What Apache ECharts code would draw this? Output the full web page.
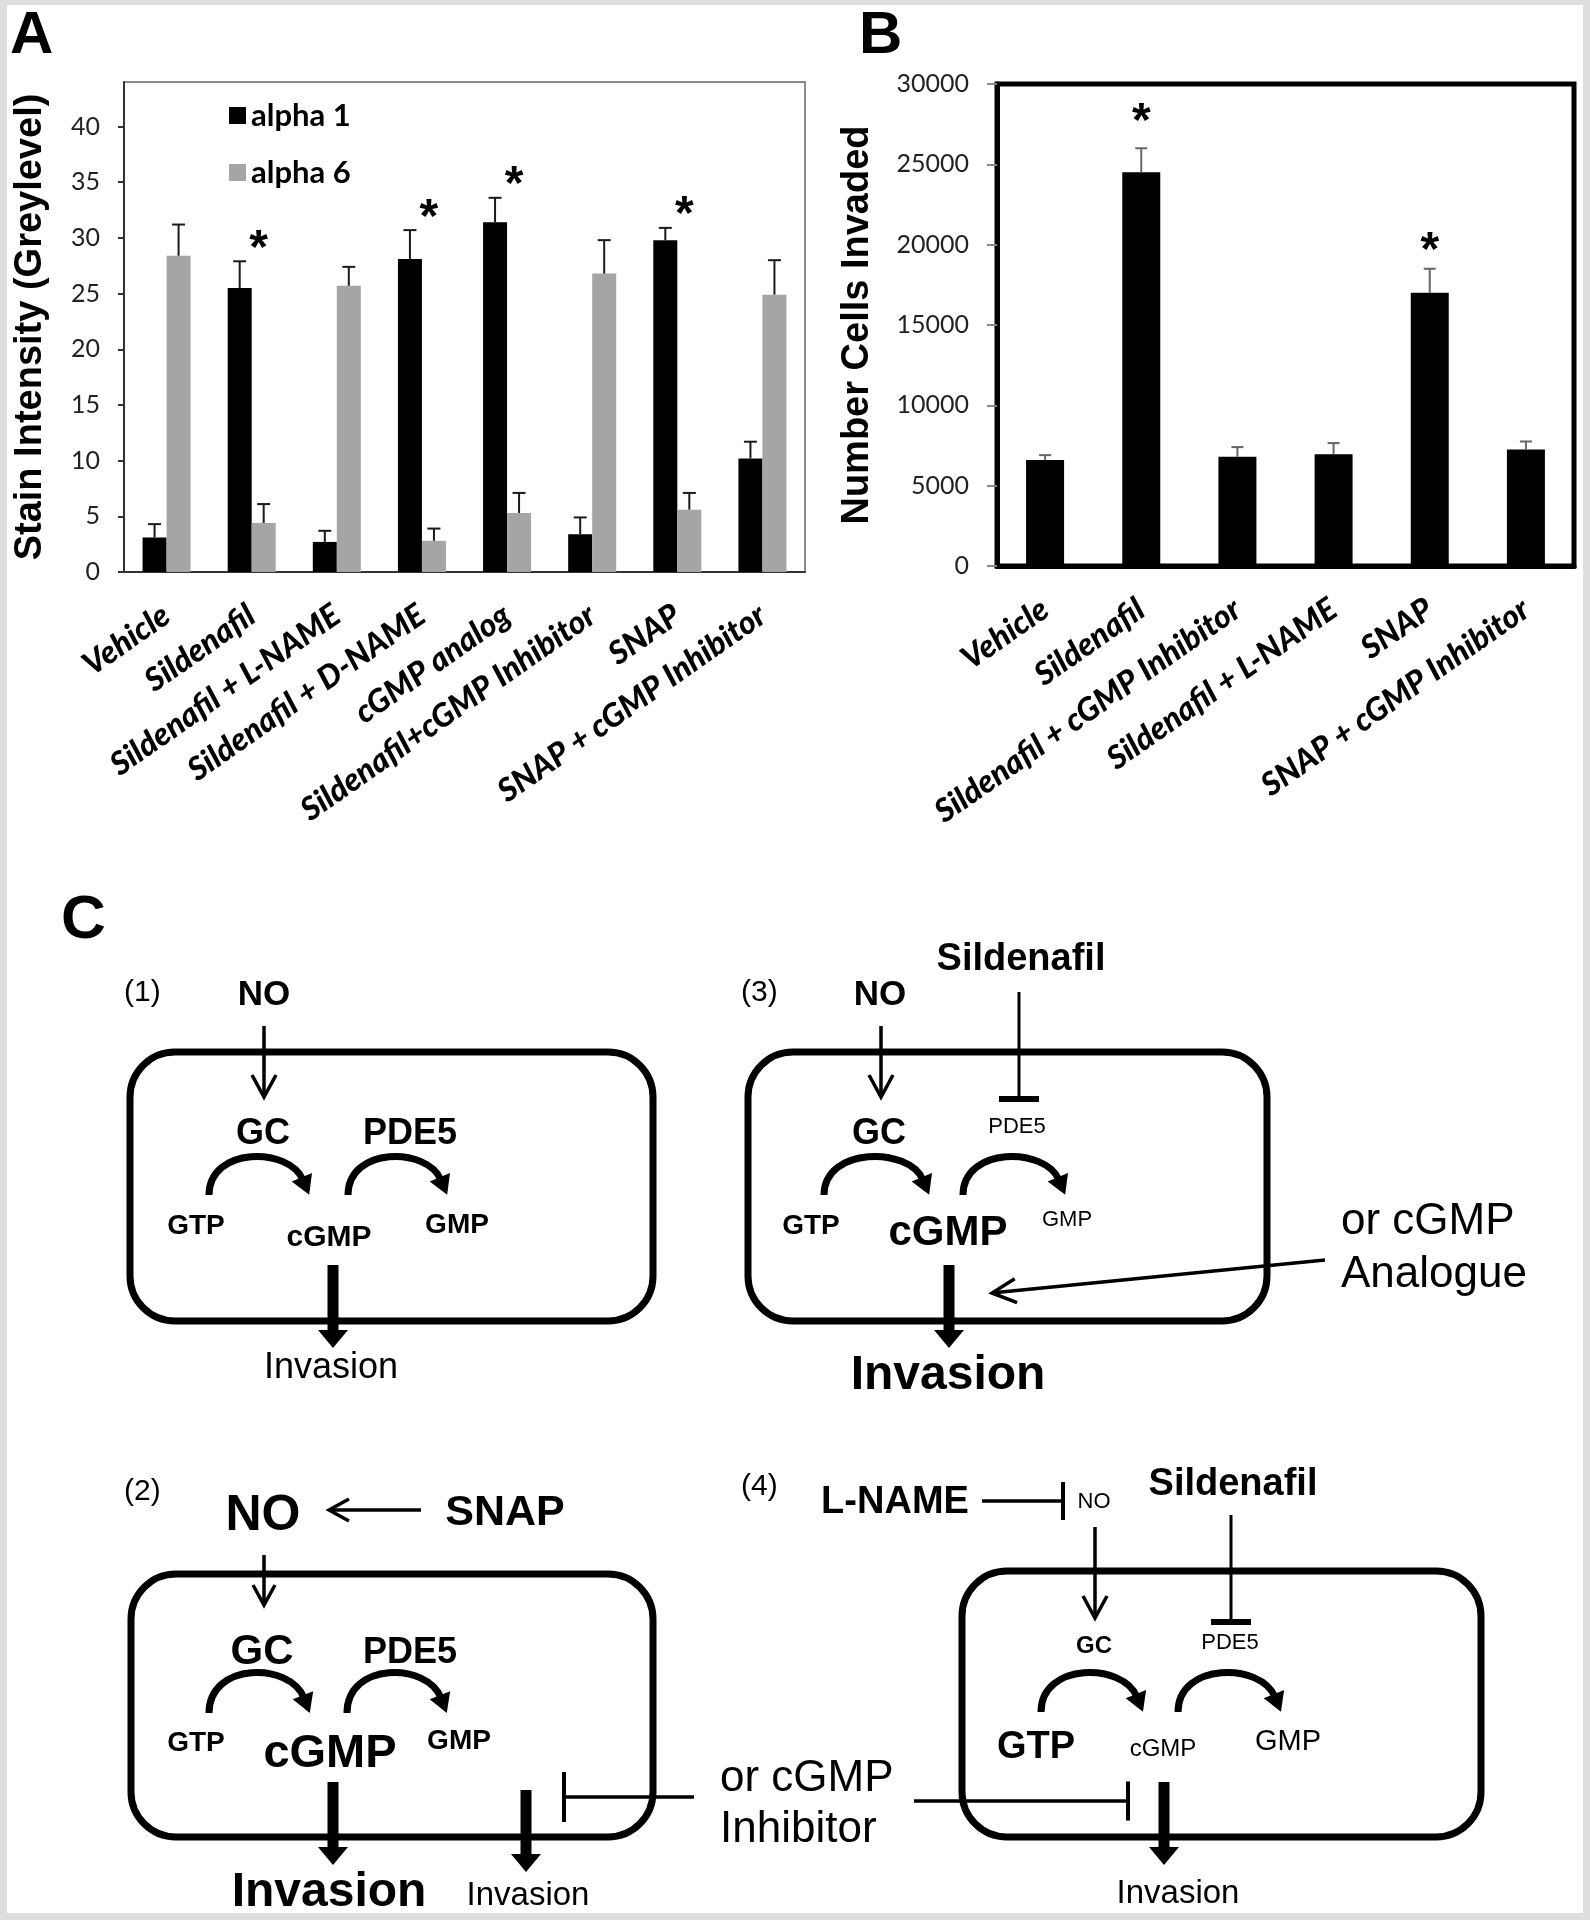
<!DOCTYPE html>
<html>
<head>
<meta charset="utf-8">
<script src="https://cdn.jsdelivr.net/npm/echarts@6/dist/echarts.min.js"></script>
<style>
  html, body { margin: 0; padding: 0; background: #dedede; }
  #paper { position: absolute; left: 7px; top: 5px; width: 1576px; height: 1908px; background: #fff; }
  #chart { position: absolute; left: 0; top: 0; width: 1590px; height: 1920px; }
</style>
</head>
<body>
<div id="paper"></div>
<div id="chart"></div>
<script>
// ---- panel A: integrin staining ----
const treatmentsA = ['Vehicle', 'Sildenafil', 'Sildenafil + L-NAME', 'Sildenafil + D-NAME',
  'cGMP analog', 'Sildenafil+cGMP Inhibitor', 'SNAP', 'SNAP + cGMP Inhibitor'];
const alpha1 = [3.1, 25.5, 2.7, 28.1, 31.4, 3.4, 29.8, 10.2];
const alpha1Err = [1.2, 2.4, 1.0, 2.6, 2.2, 1.5, 1.1, 1.5];
const alpha6 = [28.4, 4.4, 25.7, 2.8, 5.3, 26.8, 5.6, 24.9];
const alpha6Err = [2.8, 1.7, 1.7, 1.1, 1.8, 3.0, 1.5, 3.1];
const starsA = [null, 29.8, null, 32.6, 35.6, null, 32.9, null];
const yTicksA = [0, 5, 10, 15, 20, 25, 30, 35, 40];

// ---- panel B: invasion ----
const treatmentsB = ['Vehicle', 'Sildenafil', 'Sildenafil + cGMP Inhibitor',
  'Sildenafil + L-NAME', 'SNAP', 'SNAP + cGMP Inhibitor'];
const invaded = [6600, 24500, 6800, 6950, 17000, 7250];
const invadedErr = [300, 1500, 600, 700, 1500, 500];
const starsB = [null, 28200, null, null, 20200, null];

const tickFont = 'Lato';
const drawFont = 'Liberation Sans';

function withErr(vals, errs) {
  return vals.map((v, i) => [i, v, v + errs[i]]);
}
function starPts(arr) {
  return arr.map((v, i) => (v == null ? null : [i, v])).filter(Boolean);
}

function errBars(offset, color, cap) {
  return function (params, api) {
    const i = api.value(0);
    const lo = api.coord([i, api.value(1)]);
    const hi = api.coord([i, api.value(2)]);
    const x = lo[0] + offset;
    const st = { stroke: color, lineWidth: 2 };
    return {
      type: 'group',
      children: [
        { type: 'line', shape: { x1: x, y1: lo[1], x2: x, y2: hi[1] }, style: st },
        { type: 'line', shape: { x1: x - cap, y1: hi[1], x2: x + cap, y2: hi[1] }, style: st }
      ]
    };
  };
}

function starMark(offset) {
  return function (params, api) {
    const p = api.coord([api.value(0), api.value(1)]);
    return {
      type: 'text',
      x: p[0] + offset,
      y: p[1] + 10,
      style: {
        text: '*', fontFamily: drawFont, fontWeight: 'bold', fontSize: 48,
        fill: '#000', textAlign: 'center', textVerticalAlign: 'middle'
      }
    };
  };
}

// ---- panel C: pathway sketches ----
const K = '#000';
const g = [];

function txt(s, x, y, size, bold, align) {
  g.push({
    type: 'text', x: x, y: y,
    style: {
      text: s, fontFamily: drawFont, fontSize: size, fontWeight: bold ? 'bold' : 'normal',
      fill: K, textAlign: align || 'center', textVerticalAlign: 'middle'
    }
  });
}
function line(x1, y1, x2, y2, w) {
  g.push({ type: 'line', shape: { x1, y1, x2, y2 }, style: { stroke: K, lineWidth: w } });
}
function arrow(x1, y1, x2, y2, w, len, half) {
  const L = Math.hypot(x2 - x1, y2 - y1), ux = (x2 - x1) / L, uy = (y2 - y1) / L;
  line(x1, y1, x2 - ux * 2, y2 - uy * 2, w);
  g.push({
    type: 'polyline',
    shape: { points: [[x2 - ux * len - uy * half, y2 - uy * len + ux * half], [x2, y2],
      [x2 - ux * len + uy * half, y2 - uy * len - ux * half]] },
    style: { stroke: K, lineWidth: w, fill: 'none', lineJoin: 'miter' }
  });
}
function fatArrow(x, y1, y2) {
  line(x, y1, x, y2 - 15, 11);
  g.push({ type: 'polygon', shape: { points: [[x - 15, y2 - 18], [x + 15, y2 - 18], [x, y2]] }, style: { fill: K } });
}
function blocker(x1, y1, x2, y2, w, bar, bw) {
  const L = Math.hypot(x2 - x1, y2 - y1), ux = (x2 - x1) / L, uy = (y2 - y1) / L;
  line(x1, y1, x2, y2, w);
  line(x2 - uy * bar / 2, y2 + ux * bar / 2, x2 + uy * bar / 2, y2 - ux * bar / 2, bw);
}
function box(x, y, w, h) {
  g.push({ type: 'rect', shape: { x, y, width: w, height: h, r: 45 }, style: { stroke: K, lineWidth: 7, fill: 'none' } });
}
function curl(x0, tipX, baseY, apexY) {
  const h = (baseY - apexY - 1.6) / 0.75;
  const ex = tipX - 8, ey = baseY - 15;
  const c2x = tipX - 22, c2y = baseY - h;
  g.push({
    type: 'bezierCurve',
    shape: { x1: x0, y1: baseY, x2: ex, y2: ey, cpx1: x0, cpy1: baseY - h, cpx2: c2x, cpy2: c2y },
    style: { stroke: K, lineWidth: 7, fill: 'none' }
  });
  let dx = ex - c2x, dy = ey - c2y;
  const L = Math.hypot(dx, dy); dx /= L; dy /= L;
  const tx = ex + dx * 16, ty = ey + dy * 16, bx = ex - dx * 3, by = ey - dy * 3;
  g.push({
    type: 'polygon',
    shape: { points: [[tx, ty], [bx - dy * 11, by + dx * 11], [bx + dy * 11, by - dx * 11]] },
    style: { fill: K }
  });
}

// panel letters
txt('A', 10, 36, 60, true, 'left');
txt('B', 859, 36, 60, true, 'left');
txt('C', 61, 921, 62, true, 'left');

// (1)
txt('(1)', 124, 993, 30, false, 'left');
txt('NO', 264, 995, 35, true);
arrow(264, 1026, 264, 1097, 3.5, 22, 12);
box(130, 1052, 523, 269);
txt('GC', 263, 1134, 36, true);
txt('PDE5', 410, 1134, 36, true);
curl(209, 311, 1195, 1157);
curl(348, 449, 1195, 1157);
txt('GTP', 196, 1226, 28, true);
txt('cGMP', 329, 1238, 30, true);
txt('GMP', 457, 1225, 28, true);
fatArrow(333, 1265, 1348);
txt('Invasion', 331, 1368, 36, false);

// (3)
txt('(3)', 741, 993, 30, false, 'left');
txt('NO', 880, 995, 35, true);
txt('Sildenafil', 1021, 960, 38, true);
arrow(881, 1026, 881, 1097, 3.5, 22, 12);
blocker(1019, 992, 1019, 1099, 3, 40, 6);
box(748, 1052, 519, 269);
txt('PDE5', 1017, 1127, 22, false);
txt('GC', 879, 1134, 36, true);
curl(824, 931, 1195, 1157);
curl(963, 1067, 1195, 1157);
txt('GTP', 811, 1226, 28, true);
txt('cGMP', 948, 1233, 42, true);
txt('GMP', 1067, 1220, 22, false);
fatArrow(949, 1265, 1348);
txt('Invasion', 948, 1376, 48, true);
txt('or cGMP', 1341, 1222, 44, false, 'left');
txt('Analogue', 1341, 1275, 44, false, 'left');
arrow(1325, 1260, 992, 1293, 3.5, 24, 12);

// (2)
txt('(2)', 124, 1492, 30, false, 'left');
txt('NO', 263, 1516, 50, true);
arrow(421, 1510, 329, 1510, 3.5, 20, 11);
txt('SNAP', 505, 1513, 43, true);
arrow(264, 1555, 264, 1605, 3.5, 20, 11);
box(131, 1574, 522, 263);
txt('GC', 262, 1652, 42, true);
txt('PDE5', 410, 1653, 36, true);
curl(209, 312, 1713, 1673);
curl(347, 449, 1713, 1673);
txt('GTP', 196, 1743, 28, true);
txt('cGMP', 330, 1754, 47, true);
txt('GMP', 459, 1741, 28, true);
fatArrow(333, 1782, 1865);
fatArrow(526, 1790, 1872);
blocker(694, 1797, 564, 1797, 3.5, 50, 4);
txt('Invasion', 329, 1893, 48, true);
txt('Invasion', 528, 1896, 33, false);
txt('or cGMP', 720, 1779, 44, false, 'left');
txt('Inhibitor', 720, 1830, 44, false, 'left');

// (4)
txt('(4)', 741, 1487, 30, false, 'left');
txt('L-NAME', 895, 1503, 38, true);
blocker(982, 1501, 1063, 1501, 3.5, 38, 4);
txt('NO', 1094, 1502, 22, false);
txt('Sildenafil', 1233, 1485, 38, true);
arrow(1095, 1527, 1095, 1618, 3.5, 22, 12);
blocker(1231, 1515, 1231, 1622, 3, 40, 6);
box(962, 1571, 519, 266);
txt('GC', 1094, 1646, 24, true);
txt('PDE5', 1230, 1643, 22, false);
curl(1041, 1145, 1712, 1673);
curl(1178, 1283, 1712, 1673);
txt('GTP', 1036, 1748, 38, true);
txt('cGMP', 1163, 1749, 24, false);
txt('GMP', 1288, 1742, 29, false);
fatArrow(1164, 1782, 1865);
blocker(914, 1801, 1128, 1801, 3.5, 39, 4);
txt('Invasion', 1178, 1894, 33, false);

const chart = echarts.init(document.getElementById('chart'), null, { renderer: 'canvas' });

const xLabel = {
  interval: 0, rotate: 35, margin: 40, color: '#000',
  fontFamily: tickFont, fontWeight: 900, fontStyle: 'italic', fontSize: 32
};
const yLabel = { color: '#222', fontFamily: tickFont, fontSize: 25, formatter: v => String(v) };
const yName = { color: '#000', fontFamily: drawFont, fontWeight: 'bold', fontSize: 38 };

chart.setOption({
  animation: false,
  backgroundColor: 'transparent',
  legend: {
    data: ['alpha 1', 'alpha 6'],
    orient: 'vertical', left: 224, top: 95,
    itemWidth: 17, itemHeight: 17, itemGap: 26, icon: 'rect',
    textStyle: { fontFamily: tickFont, fontWeight: 'bold', fontSize: 31, color: '#000' }
  },
  grid: [
    { left: 124, top: 82, width: 681, height: 490, show: true, borderColor: '#666', borderWidth: 1.5 },
    { left: 997, top: 84, width: 577, height: 482, show: true, borderColor: '#000', borderWidth: 5 }
  ],
  xAxis: [
    {
      type: 'category', gridIndex: 0, data: treatmentsA,
      axisLine: { lineStyle: { color: '#333', width: 2 } },
      axisTick: { length: 11, lineStyle: { color: '#333', width: 2 } },
      axisLabel: xLabel
    },
    {
      type: 'category', gridIndex: 1, data: treatmentsB,
      axisLine: { lineStyle: { color: '#000', width: 5 } },
      axisTick: { length: 11, lineStyle: { color: '#222', width: 2 } },
      axisLabel: xLabel
    }
  ],
  yAxis: [
    {
      type: 'value', gridIndex: 0, min: 0, max: 44, interval: 5,
      name: 'Stain Intensity (Greylevel)', nameLocation: 'middle', nameGap: 74, nameTextStyle: yName,
      axisLine: { show: true, lineStyle: { color: '#333', width: 2 } },
      axisTick: { show: true, length: 6, customValues: yTicksA, lineStyle: { color: '#333', width: 2 } },
      axisLabel: Object.assign({ margin: 24, customValues: yTicksA }, yLabel),
      splitLine: { show: false }
    },
    {
      type: 'value', gridIndex: 1, min: 0, max: 30000, interval: 5000,
      name: 'Number Cells Invaded', nameLocation: 'middle', nameGap: 120, nameTextStyle: yName,
      axisLine: { show: true, lineStyle: { color: '#000', width: 5 } },
      axisTick: { show: true, length: 10, lineStyle: { color: '#888', width: 2 } },
      axisLabel: Object.assign({ margin: 28 }, yLabel),
      splitLine: { show: false }
    }
  ],
  series: [
    {
      name: 'alpha 1', type: 'bar', xAxisIndex: 0, yAxisIndex: 0, data: alpha1,
      barWidth: 24, barGap: '0%', itemStyle: { color: '#000' }
    },
    {
      name: 'alpha 6', type: 'bar', xAxisIndex: 0, yAxisIndex: 0, data: alpha6,
      barWidth: 24, barGap: '0%', itemStyle: { color: '#a5a5a5' }
    },
    {
      type: 'custom', xAxisIndex: 0, yAxisIndex: 0, z: 5,
      renderItem: errBars(-12, '#1a1a1a', 6.5), data: withErr(alpha1, alpha1Err),
      encode: { x: 0, y: [1, 2] }
    },
    {
      type: 'custom', xAxisIndex: 0, yAxisIndex: 0, z: 5,
      renderItem: errBars(12, '#1a1a1a', 6.5), data: withErr(alpha6, alpha6Err),
      encode: { x: 0, y: [1, 2] }
    },
    {
      type: 'custom', xAxisIndex: 0, yAxisIndex: 0, z: 5,
      renderItem: starMark(7), data: starPts(starsA), encode: { x: 0, y: 1 }
    },
    {
      name: 'invaded', type: 'bar', xAxisIndex: 1, yAxisIndex: 1, data: invaded,
      barWidth: 38, itemStyle: { color: '#000' }
    },
    {
      type: 'custom', xAxisIndex: 1, yAxisIndex: 1, z: 5,
      renderItem: errBars(0, '#666', 6), data: withErr(invaded, invadedErr),
      encode: { x: 0, y: [1, 2] }
    },
    {
      type: 'custom', xAxisIndex: 1, yAxisIndex: 1, z: 5,
      renderItem: starMark(0), data: starPts(starsB), encode: { x: 0, y: 1 }
    }
  ],
  graphic: g
});
</script>
</body>
</html>
